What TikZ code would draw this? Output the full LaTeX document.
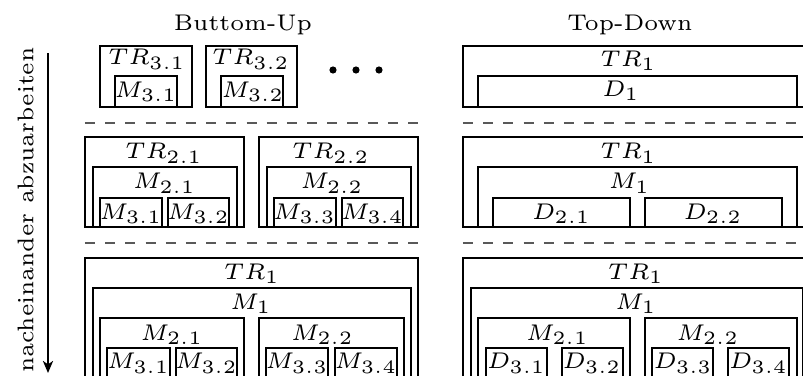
\documentclass[tikz,border=0pt]{standalone}
\usetikzlibrary{fit,calc,arrows.meta}
% #1 name, #2-#5 corners, #6 label, #7 label x, #8 label gap below top
\newcommand\mybox[8]{%
  \node[bx, fit={(#2,#3) (#4,#5)}] (#1) {};
  \node[lbl] (#1l) at (#7,{#3+#8}) {$#6$};
}
\newcommand\smallcm{\fontencoding{OT1}\fontfamily{cmr}\fontsize{6}{7.2}\selectfont}
\begin{document}
\begin{tikzpicture}[x=0.2645pt, y=-0.2645pt,
  txt/.style={font=\smallcm, inner sep=0pt},
  bx/.style={draw, line width=0.72pt, inner sep=0pt, outer sep=0pt},
  lbl/.style={txt, anchor=north},
  sep/.style={draw=black!65, line width=0.53pt, dash pattern=on 2.67pt off 2.67pt},
  hdr/.style={txt, anchor=base}]
\useasboundingbox (0,0) rectangle (803,376);
\clip (0,0) rectangle (803,376);
% headers
\node[hdr] (hbu) at (243,30.7) {Buttom-Up};
\node[hdr] (htd) at (630,30.7) {Top-Down};
% vertical arrow and text
\node[hdr, rotate=90] (vtext) at (33.3,210) {nacheinander abzuarbeiten};
\coordinate (arA) at (48,53);
\coordinate (arB) at (48,373);
\draw[line width=0.45pt, -{Stealth[length=3.2pt,width=2.7pt,inset=0.9pt]}] (arA) -- (arB);
% separators
\coordinate (s1a) at (85,122.5);  \coordinate (s1b) at (418,122.5);
\coordinate (s1c) at (463,122.5); \coordinate (s1d) at (820,122.5);
\coordinate (s2a) at (85,243);    \coordinate (s2b) at (418,243);
\coordinate (s2c) at (463,243);   \coordinate (s2d) at (820,243);
\draw[sep] (s1a) -- (s1b);
\draw[sep] (s1c) -- (s1d);
\draw[sep] (s2a) -- (s2b);
\draw[sep] (s2c) -- (s2d);
% ---------- top row ----------
\mybox{ta}{100}{46}{192}{107}{TR_{3.1}}{147}{2.5}
\mybox{tam}{115}{76}{177}{107}{M_{3.1}}{146}{5}
\mybox{tb}{206}{46}{297}{107}{TR_{3.2}}{251}{2.5}
\mybox{tbm}{221}{76}{283}{107}{M_{3.2}}{253}{5}
\fill (333,70) circle[radius=0.95pt];
\fill (356,70) circle[radius=0.95pt];
\fill (379,70) circle[radius=0.95pt];
\mybox{tr}{463}{46}{812}{107}{TR_1}{628.5}{4}
\mybox{trd}{478}{76}{797}{107}{D_1}{621}{4}
% ---------- middle row left ----------
\mybox{ma}{85}{137}{244}{227}{TR_{2.1}}{164}{5.5}
\mybox{mam}{93}{167}{237}{227}{M_{2.1}}{164.5}{5.5}
\mybox{ma1}{100}{198}{162}{227}{M_{3.1}}{131}{5}
\mybox{ma2}{168}{198}{229}{227}{M_{3.2}}{198.5}{5}
\mybox{mb}{259}{137}{418}{227}{TR_{2.2}}{331}{5.5}
\mybox{mbm}{267}{167}{411}{227}{M_{2.2}}{332}{5.5}
\mybox{mb1}{274}{198}{336}{227}{M_{3.3}}{304.5}{5}
\mybox{mb2}{342}{198}{403}{227}{M_{3.4}}{372.5}{5}
% ---------- middle row right ----------
\mybox{mr}{463}{137}{812}{227}{TR_1}{628.5}{5.5}
\mybox{mrm}{478}{167}{797}{227}{M_1}{629.5}{5.5}
\mybox{mr1}{493}{198}{630}{227}{D_{2.1}}{561.5}{5}
\mybox{mr2}{645}{198}{782}{227}{D_{2.2}}{713}{5}
% ---------- bottom row left ----------
\mybox{ba}{85}{258}{418}{395}{TR_1}{252}{5}
\mybox{bam}{93}{288}{411}{395}{M_1}{251}{5}
\mybox{ba1}{100}{318}{244}{395}{M_{2.1}}{172}{6}
\mybox{ba2}{259}{318}{404}{395}{M_{2.2}}{322.5}{6}
\mybox{ba11}{107}{348}{170}{395}{M_{3.1}}{138.5}{4.5}
\mybox{ba12}{176}{348}{237}{395}{M_{3.2}}{206.5}{4.5}
\mybox{ba21}{266}{348}{328}{395}{M_{3.3}}{297}{4.5}
\mybox{ba22}{335}{348}{397}{395}{M_{3.4}}{366}{4.5}
% ---------- bottom row right ----------
\mybox{br}{463}{258}{812}{395}{TR_1}{636}{5}
\mybox{brm}{471}{288}{803.5}{395}{M_1}{636}{5}
\mybox{br1}{478}{318}{630}{395}{M_{2.1}}{557.5}{6}
\mybox{br2}{645}{318}{797}{395}{M_{2.2}}{708}{6}
\mybox{br11}{486}{348}{547}{395}{D_{3.1}}{516.5}{4.5}
\mybox{br12}{562}{348}{623}{395}{D_{3.2}}{592}{4.5}
\mybox{br21}{652}{348}{713}{395}{D_{3.3}}{683}{4.5}
\mybox{br22}{728}{348}{789}{395}{D_{3.4}}{758.5}{4.5}
\end{tikzpicture}
\end{document}
